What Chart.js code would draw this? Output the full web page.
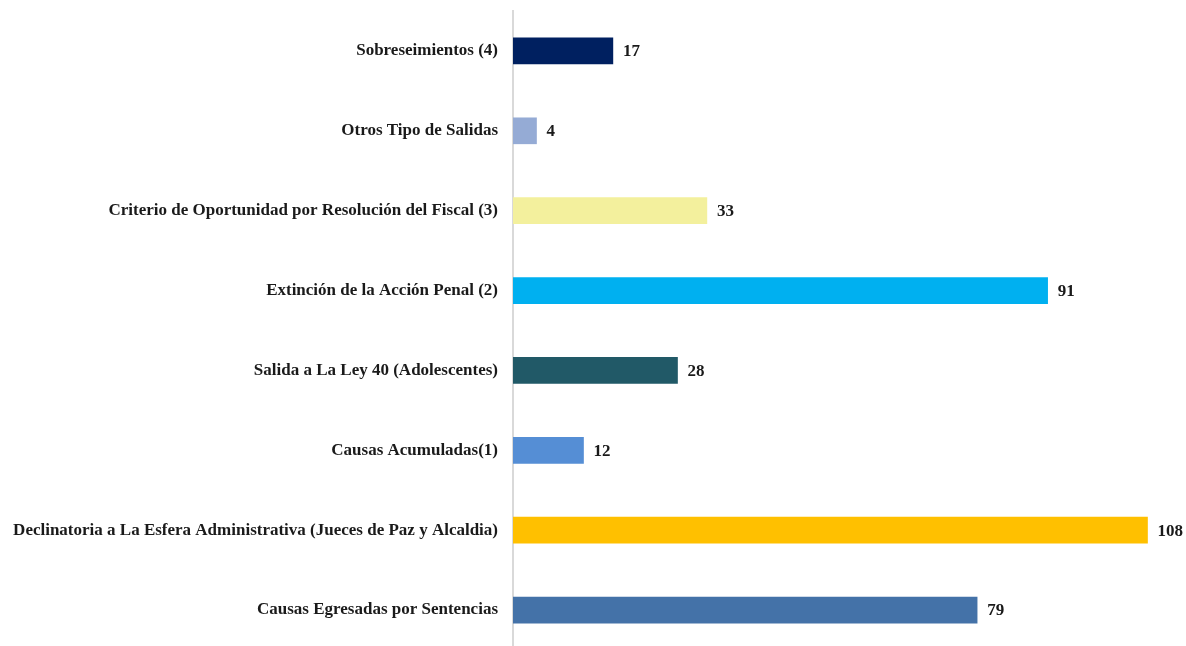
<!DOCTYPE html>
<html>
<head>
<meta charset="utf-8">
<script src="https://cdn.jsdelivr.net/npm/chart.js@4/dist/chart.umd.min.js"></script>
<style>
  html, body { margin: 0; padding: 0; background: #fff; overflow: hidden; }
  canvas { display: block; }
</style>
</head>
<body>
<canvas id="myBarChart" width="1186" height="650"></canvas>
<script>
const categories = [
  "Sobreseimientos (4)",
  "Otros Tipo de Salidas",
  "Criterio de Oportunidad por Resolución del Fiscal (3)",
  "Extinción de la Acción Penal (2)",
  "Salida a La Ley 40 (Adolescentes)",
  "Causas Acumuladas(1)",
  "Declinatoria a La Esfera Administrativa (Jueces de Paz y Alcaldia)",
  "Causas Egresadas por Sentencias"
];
const values = [17, 4, 33, 91, 28, 12, 108, 79];
const barColors = ["#002060", "#95ABD5", "#F3F09D", "#00B0F0", "#215967", "#558ED5", "#FFC000", "#4472A8"];

const labelFont = "bold 17px 'Liberation Serif', serif";

// draws the value to the right of each bar
const valueLabels = {
  id: "valueLabels",
  afterDatasetsDraw(chart) {
    const ctx = chart.ctx;
    const meta = chart.getDatasetMeta(0);
    ctx.save();
    ctx.font = labelFont;
    ctx.fillStyle = "#1a1a1a";
    ctx.textAlign = "left";
    ctx.textBaseline = "middle";
    meta.data.forEach((bar, i) => {
      ctx.fillText(String(values[i]), bar.x + 10, bar.y + 1);
    });
    ctx.restore();
  }
};

new Chart(document.getElementById("myBarChart").getContext("2d"), {
  type: "bar",
  data: {
    labels: categories,
    datasets: [{
      data: values,
      backgroundColor: barColors,
      barThickness: 26
    }]
  },
  options: {
    indexAxis: "y",
    responsive: false,
    animation: false,
    layout: { padding: { top: 11, right: 15, bottom: 0, left: 0 } },
    plugins: { legend: { display: false }, tooltip: { enabled: false } },
    scales: {
      x: { display: false, min: 0, max: 112 },
      y: {
        afterFit(scale) {
          scale.width = 513;
          scale.paddingTop = 0;
          scale.paddingBottom = 0;
        },
        grid: { display: false, drawTicks: false },
        border: { display: true, color: "#d9d9d9", width: 2 },
        ticks: {
          padding: 15,
          color: "#1a1a1a",
          font: { family: "'Liberation Serif', serif", size: 17, weight: "bold" }
        }
      }
    }
  },
  plugins: [valueLabels]
});
</script>
</body>
</html>
